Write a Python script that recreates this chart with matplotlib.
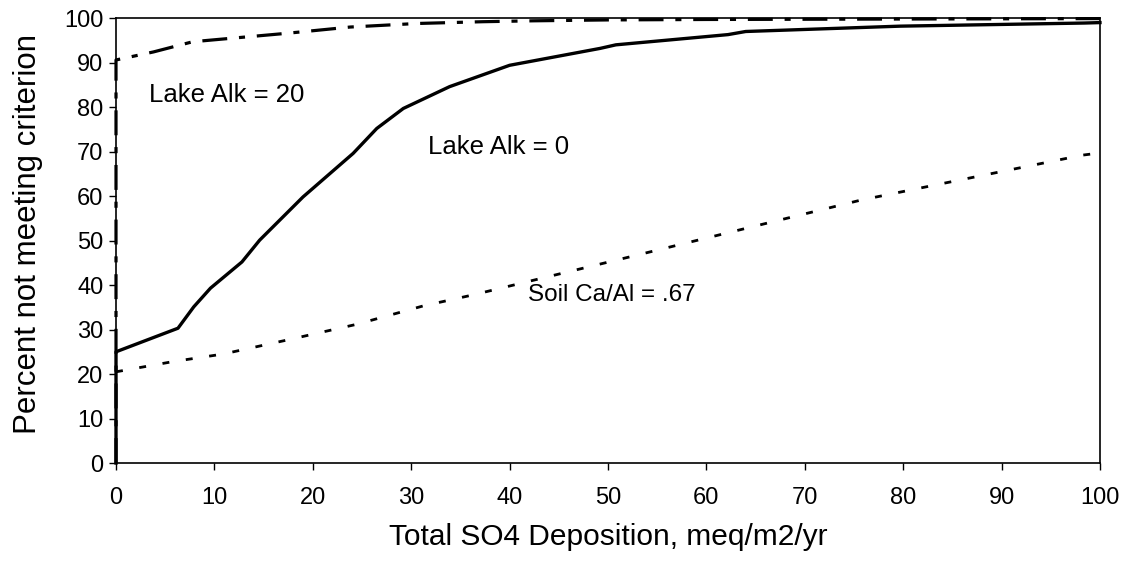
import matplotlib
matplotlib.use("Agg")
import matplotlib.pyplot as plt

# Data
alk0_x = [0, 0, 6.3, 7.9, 9.6, 12.8, 14.6, 19.0, 24.1, 26.5, 29.2, 33.9, 40.0, 49.2, 50.8, 62.2, 64, 79.7, 98.4, 100]
alk0_y = [0, 25, 30.3, 35.1, 39.3, 45.2, 50.1, 59.8, 69.6, 75.2, 79.7, 84.6, 89.4, 93.2, 94.0, 96.3, 97.0, 98.2, 98.9, 99.0]

alk20_x = [0, 0, 3.8, 7.8, 17.4, 23.8, 30.6, 37.3, 42.4, 50, 60, 80, 100]
alk20_y = [0, 90.6, 92.4, 94.7, 96.6, 98.0, 98.8, 99.2, 99.4, 99.6, 99.7, 99.8, 99.9]

soil_x = [0, 5.8, 10.9, 17.7, 24.5, 31.2, 36.3, 52.7, 75.7, 98.2, 100]
soil_y = [20.5, 22.8, 24.5, 27.8, 31.2, 35.3, 37.8, 46.6, 59.1, 69.2, 69.7]

xticks = list(range(0, 101, 10))
yticks = list(range(0, 101, 10))

plt.rcParams['font.family'] = ['Liberation Sans', 'DejaVu Sans']

fig = plt.figure(figsize=(11.23, 5.67), dpi=100)
ax = fig.add_axes([0.1033, 0.1834, 0.8762, 0.7846])

ax.plot(alk0_x, alk0_y, color='black', lw=2.4, solid_joinstyle='round', clip_on=False)
ax.plot(alk20_x, alk20_y, color='black', lw=2.3, linestyle=(0, (7.8, 3.7, 1.9, 3.7)), clip_on=False)
ax.plot(soil_x, soil_y, color='black', lw=2.0, linestyle=(0, (2.5, 6)), clip_on=False)

ax.text(3.4, 82.7, 'Lake Alk = 20', fontsize=18.5, va='center', ha='left')
ax.text(31.7, 71, 'Lake Alk = 0', fontsize=18.5, va='center', ha='left')
ax.text(41.9, 37.8, 'Soil Ca/Al = .67', fontsize=17.5, va='center', ha='left')

ax.set_xlim(0, 100)
ax.set_ylim(0, 100)
ax.set_xticks(xticks)
ax.set_yticks(yticks)
ax.tick_params(direction='out', length=5, width=1, labelsize=17)
ax.tick_params(axis='x', pad=12)
ax.tick_params(axis='y', pad=4)
for s in ax.spines.values():
    s.set_linewidth(1.2)
    s.set_color('black')

ax.set_xlabel('Total SO4 Deposition, meq/m2/yr', fontsize=21.5, labelpad=10)
ax.set_ylabel('Percent not meeting criterion', fontsize=22.5)
ax.yaxis.set_label_coords(-0.074, 0.515)

fig.savefig('out.png', dpi=100)
